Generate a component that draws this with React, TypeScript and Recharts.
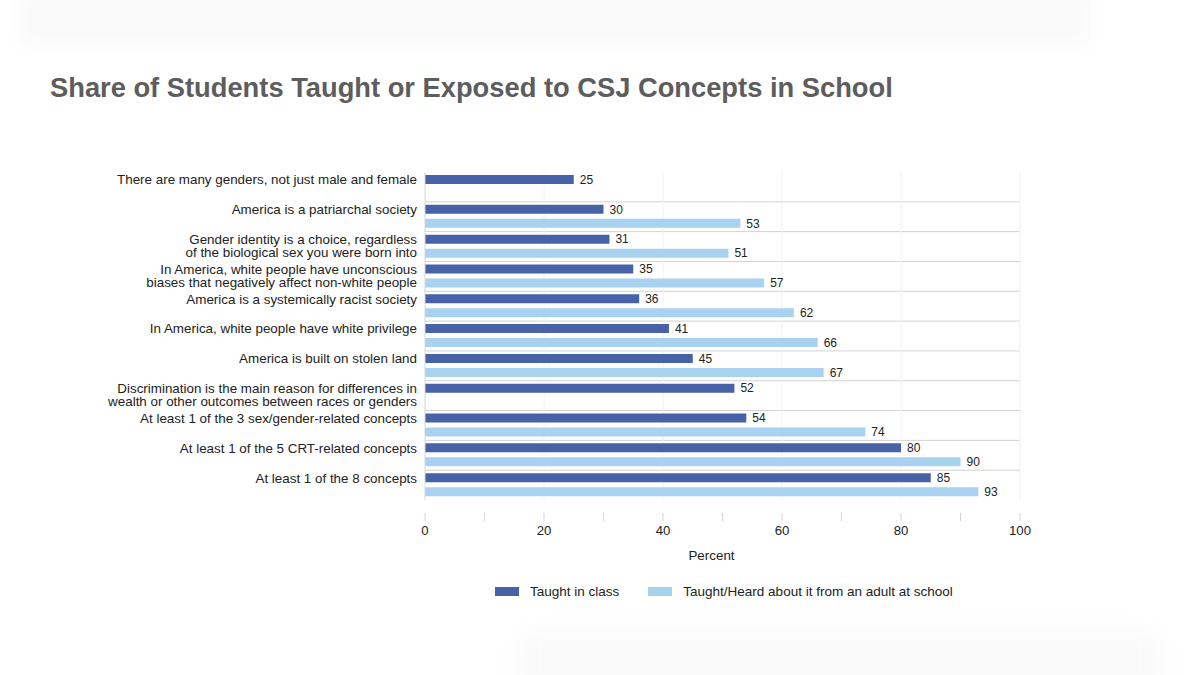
import React from 'react'
import {
  BarChart,
  Bar,
  XAxis,
  YAxis,
  CartesianGrid,
  LabelList,
} from 'recharts'

const title = 'Share of Students Taught or Exposed to CSJ Concepts in School'

const categories = [
  'There are many genders, not just male and female',
  'America is a patriarchal society',
  'Gender identity is a choice, regardless\nof the biological sex you were born into',
  'In America, white people have unconscious\nbiases that negatively affect non-white people',
  'America is a systemically racist society',
  'In America, white people have white privilege',
  'America is built on stolen land',
  'Discrimination is the main reason for differences in\nwealth or other outcomes between races or genders',
  'At least 1 of the 3 sex/gender-related concepts',
  'At least 1 of the 5 CRT-related concepts',
  'At least 1 of the 8 concepts',
]

const taughtInClass = [25, 30, 31, 35, 36, 41, 45, 52, 54, 80, 85]
const heardFromAdult = [null, 53, 51, 57, 62, 66, 67, null, 74, 90, 93]

const seriesNames = ['Taught in class', 'Taught/Heard about it from an adult at school']
const seriesColors = ['#4862a8', '#a9d2f1']

const xTicks = [0, 10, 20, 30, 40, 50, 60, 70, 80, 90, 100]
const gridValues = [20, 40, 60, 80, 100]

const chartData = categories.map((label, i) => ({
  label,
  taught: taughtInClass[i],
  heard: heardFromAdult[i],
}))

const FONT = '"Liberation Sans", Arial, Helvetica, sans-serif'

// category label: first line sits on the dark bar, second on the light one
const CategoryTick = (props: any) => {
  const { x, y, payload } = props
  const lines = String(payload.value).split('\n')
  return (
    <text x={x} y={y} textAnchor="end" fontSize={13.4} fill="#222" fontFamily={FONT}>
      {lines.map((line, i) => (
        <tspan key={i} x={x} y={y - 7.2 + i * 13.2} dy="0.35em">
          {line}
        </tspan>
      ))}
    </text>
  )
}

const PercentTick = (props: any) => {
  const { x, y, payload } = props
  const showLabel = payload.value % 20 === 0
  return (
    <g>
      <line x1={x} x2={x} y1={y + 13} y2={y + 21} stroke="#d4d4d4" />
      {showLabel && (
        <text x={x} y={y + 35} textAnchor="middle" fontSize={13.2} fill="#222" fontFamily={FONT}>
          {payload.value}
        </text>
      )}
    </g>
  )
}

// separator lines go between category bands, not through them
const bandBoundaries = ({ offset }: any) =>
  categories.slice(1).map((_, i) => offset.top + (offset.height * (i + 1)) / categories.length)

export default function App() {
  return (
    <div
      style={{
        position: 'absolute',
        left: 0,
        top: 0,
        width: 1200,
        height: 675,
        background: '#fff',
        fontFamily: FONT,
        overflow: 'hidden',
      }}
    >
      {/* faint backdrop smudges */}
      <div
        style={{
          position: 'absolute',
          left: 20,
          top: -10,
          width: 1070,
          height: 54,
          background: '#f9f9f9',
          filter: 'blur(10px)',
        }}
      />
      <div
        style={{
          position: 'absolute',
          left: 520,
          top: 634,
          width: 640,
          height: 60,
          background: '#f9f9f9',
          filter: 'blur(12px)',
        }}
      />

      <div
        style={{
          position: 'absolute',
          left: 50,
          top: 74,
          fontSize: 27.3,
          lineHeight: '28px',
          fontWeight: 700,
          color: '#5d5d5d',
          whiteSpace: 'nowrap',
        }}
      >
        {title}
      </div>

      <div style={{ position: 'absolute', left: 0, top: 0 }}>
        <BarChart
          width={1200}
          height={620}
          data={chartData}
          layout="vertical"
          margin={{ top: 172, right: 180, bottom: 60, left: 0 }}
          barCategoryGap={3}
          barGap={5}
        >
          <CartesianGrid
            vertical={false}
            stroke="#d2d2d2"
            horizontalCoordinatesGenerator={bandBoundaries}
          />
          <CartesianGrid horizontal={false} stroke="#f2f2f2" verticalValues={gridValues} />
          <XAxis
            type="number"
            domain={[0, 100]}
            ticks={xTicks}
            interval={0}
            axisLine={false}
            tickLine={false}
            tickSize={0}
            tickMargin={0}
            height={60}
            tick={<PercentTick />}
            label={{
              value: 'Percent',
              position: 'insideBottom',
              offset: 0,
              dx: -11,
              fontSize: 13.4,
              fill: '#222',
              fontFamily: FONT,
            }}
          />
          <YAxis
            type="category"
            dataKey="label"
            width={425}
            interval={0}
            tickLine={false}
            axisLine={{ stroke: '#d6d6d6' }}
            tick={<CategoryTick />}
          />
          <Bar dataKey="taught" name={seriesNames[0]} fill={seriesColors[0]} isAnimationActive={false}>
            <LabelList dataKey="taught" position="right" offset={6} fontSize={12} fill="#222" fontFamily={FONT} />
          </Bar>
          <Bar dataKey="heard" name={seriesNames[1]} fill={seriesColors[1]} isAnimationActive={false}>
            <LabelList dataKey="heard" position="right" offset={6} fontSize={12} fill="#222" fontFamily={FONT} />
          </Bar>
        </BarChart>
      </div>

      {/* Legend */}
      <div
        style={{
          position: 'absolute',
          left: 495,
          top: 584,
          display: 'flex',
          alignItems: 'center',
          fontSize: 13.5,
          color: '#222',
          whiteSpace: 'nowrap',
        }}
      >
        {seriesNames.map((name, i) => (
          <div key={name} style={{ display: 'flex', alignItems: 'center', marginRight: 29 }}>
            <div style={{ width: 24, height: 9, background: seriesColors[i], marginRight: 11 }} />
            <span>{name}</span>
          </div>
        ))}
      </div>
    </div>
  )
}
